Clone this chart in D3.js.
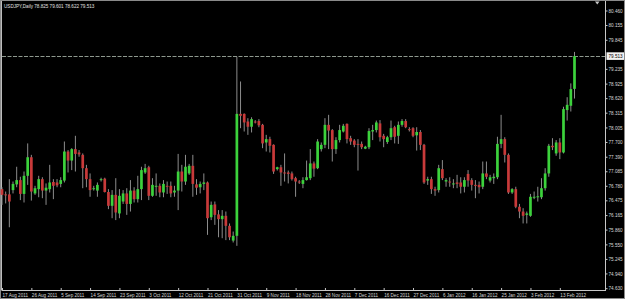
<!DOCTYPE html>
<html>
<head>
<meta charset="utf-8">
<script src="https://d3js.org/d3.v7.min.js"></script>
<style>
  body { margin:0; background:#000; }
  svg { display:block; }
  text { font-family: "Liberation Sans", Arial, sans-serif; }
</style>
</head>
<body>
<script>

/* Data */
/* ==== */

var title = "USDJPY,Daily  78.825 79.601 78.622 79.513";
var bid = 79.513;

var openP = [76.72,76.61,76.61,76.70,76.82,76.91,76.62,77.00,77.39,76.63,
  76.72,76.93,76.69,76.72,76.87,76.86,76.83,76.90,77.51,77.32,
  77.56,77.49,77.44,77.16,76.93,76.73,76.69,76.91,76.94,76.66,
  76.37,76.60,76.21,76.46,76.63,76.41,76.69,76.51,76.72,77.07,
  77.18,76.58,76.79,76.79,76.65,76.79,76.79,76.65,76.69,77.09,
  76.88,77.05,77.21,76.82,76.76,76.83,76.86,76.13,76.40,76.19,
  76.09,76.16,75.95,75.64,75.74,78.30,78.30,78.14,78.03,78.14,
  78.15,78.07,77.70,77.77,77.65,77.14,77.18,77.07,77.07,77.05,
  76.95,76.88,76.83,76.91,76.95,77.26,77.16,77.56,77.65,78.07,
  77.96,77.56,77.75,77.93,78.09,77.79,77.74,77.67,77.67,77.57,
  77.60,77.93,77.96,78.10,77.84,77.71,77.81,78.02,77.84,78.07,
  78.15,77.98,78.00,77.85,77.92,77.65,76.90,76.93,76.72,76.70,
  77.14,76.88,76.88,76.84,76.86,76.86,76.77,77.04,76.91,76.81,
  76.81,76.77,77.05,76.90,76.95,76.97,77.67,77.77,77.44,76.65,
  76.72,76.35,76.25,76.18,76.16,76.56,76.56,76.55,76.74,77.05,
  77.63,77.47,77.70,77.49,78.38,78.47,78.825];

var highP = [76.76,76.67,76.93,76.88,77.19,76.98,77.09,77.68,77.44,76.79,
  77.00,76.97,76.84,77.23,76.93,76.93,76.97,77.72,77.54,77.58,
  77.84,77.54,77.47,77.23,77.05,76.79,76.86,76.96,76.96,76.72,
  76.70,76.95,76.72,76.70,76.74,76.91,76.76,77.00,77.19,77.25,
  77.21,76.95,77.05,76.84,76.91,76.88,76.88,76.79,77.46,77.23,
  77.44,77.25,77.44,76.93,76.88,77.05,76.88,76.46,76.46,76.28,
  76.28,76.25,76.00,75.83,79.50,78.98,78.31,78.21,78.23,78.17,
  78.19,78.09,77.86,77.82,77.66,77.19,77.23,77.47,77.11,77.09,
  76.98,76.91,76.97,77.32,77.56,77.30,77.77,77.70,78.21,78.28,
  77.98,77.81,78.07,78.09,78.10,77.84,77.77,77.77,77.72,77.63,
  78.00,78.07,78.16,78.17,77.88,77.84,78.16,78.05,78.14,78.19,
  78.19,78.02,78.02,78.02,77.96,77.67,76.98,76.98,76.77,77.23,
  77.33,76.95,76.97,76.93,77.02,76.97,76.97,77.12,76.95,76.91,
  76.88,77.30,77.30,77.02,77.05,77.82,78.28,77.81,77.47,76.74,
  76.77,76.41,76.32,76.25,76.62,76.67,76.77,76.95,77.16,77.67,
  77.79,77.75,77.79,78.45,78.65,78.94,79.601];

var lowP = [76.39,76.42,75.92,76.63,76.76,76.49,76.44,76.81,76.48,76.60,
  76.55,76.53,76.39,76.65,76.51,76.76,76.76,76.86,77.07,77.12,
  77.09,77.40,76.74,76.76,76.56,76.69,76.56,76.88,76.65,76.30,
  76.11,76.07,76.11,76.41,76.18,76.25,76.44,76.44,76.49,77.04,
  76.49,76.56,76.58,76.55,76.55,76.62,76.55,76.56,76.28,76.67,
  76.81,77.02,76.56,76.60,76.63,76.70,75.76,76.07,75.97,75.71,
  75.69,75.65,75.65,75.60,75.53,78.00,77.93,77.86,77.91,78.10,
  78.02,77.58,77.51,77.49,77.04,77.11,76.79,76.88,76.84,76.90,
  76.56,76.83,76.74,76.90,76.91,76.98,77.14,77.51,77.58,77.56,
  77.30,77.46,77.70,77.91,77.68,77.65,77.60,77.11,77.56,77.56,
  77.56,77.75,77.91,77.72,77.60,77.67,77.75,77.68,77.67,78.03,
  78.00,77.93,77.81,77.53,77.54,76.83,76.81,76.62,76.58,76.65,
  76.91,76.77,76.77,76.74,76.74,76.63,76.65,76.77,76.69,76.53,
  76.63,76.72,76.93,76.86,76.83,76.93,77.58,77.28,76.62,76.62,
  76.32,76.11,76.00,76.00,76.14,76.51,76.46,76.51,76.69,76.98,
  77.54,77.42,77.35,77.47,78.16,78.35,78.622];

var closeP = [76.60,76.60,76.46,76.83,76.91,76.62,77.00,77.39,76.67,76.74,
  76.93,76.69,76.75,76.86,76.79,76.80,76.91,77.51,77.32,77.56,
  77.46,77.45,77.16,76.93,76.70,76.74,76.81,76.93,76.66,76.37,
  76.60,76.23,76.58,76.63,76.41,76.69,76.51,76.72,77.12,77.16,
  76.58,76.81,76.79,76.65,76.83,76.78,76.63,76.69,77.09,76.88,
  77.19,77.21,76.83,76.75,76.83,76.86,76.11,76.39,76.18,76.09,
  76.16,75.95,75.71,75.74,78.30,78.26,78.12,78.03,78.19,78.13,
  78.06,77.68,77.77,77.63,77.09,77.18,77.07,77.06,77.04,76.93,
  76.88,76.87,76.91,76.97,77.26,77.15,77.72,77.65,78.07,77.95,
  77.56,77.75,77.96,78.05,77.77,77.72,77.65,77.66,77.60,77.61,
  77.94,77.96,78.12,77.81,77.77,77.81,78.00,77.82,78.07,78.15,
  78.02,77.97,77.84,77.92,77.65,76.86,76.93,76.72,76.69,77.16,
  76.95,76.91,76.86,76.84,76.83,76.77,76.91,76.90,76.81,76.80,
  76.76,77.05,76.98,76.97,76.98,77.67,77.77,77.44,76.65,76.72,
  76.35,76.25,76.16,76.21,76.56,76.56,76.57,76.74,77.05,77.63,
  77.60,77.70,77.49,78.40,78.49,78.82,79.513];

// date labels, one every 8 bars
var dateLabels = ["17 Aug 2011","26 Aug 2011","5 Sep 2011","14 Sep 2011","23 Sep 2011",
  "3 Oct 2011","12 Oct 2011","21 Oct 2011","31 Oct 2011","9 Nov 2011","18 Nov 2011",
  "28 Nov 2011","7 Dec 2011","16 Dec 2011","27 Dec 2011","6 Jan 2012","16 Jan 2012",
  "25 Jan 2012","3 Feb 2012","13 Feb 2012"];
var labelStep = 8;

var priceTicks = [74.630,74.940,75.245,75.550,75.860,76.165,76.475,76.780,77.085,77.390,
  77.700,78.005,78.315,78.620,78.925,79.235,79.845,80.155,80.460];


/* Set up */
/* ====== */

var width = 625, height = 299;
var plotRight = 605, plotBottom = 290;

var bars = openP.map(function(o, i) {
  return { i: i, o: o, h: highP[i], l: lowP[i], c: closeP[i] };
});

var x = d3.scaleLinear().domain([0, bars.length - 1]).range([2, 574.5]);
var y = d3.scaleLinear().domain([74.630, 80.460]).range([288.7, 11]);

var svg = d3.select('body').append('svg')
    .attr('width', width)
    .attr('height', height);

svg.append('rect')
    .attr('width', width).attr('height', height)
    .attr('fill', '#000');

// window frame
svg.append('rect')
    .attr('x', 0.5).attr('y', 0.5)
    .attr('width', width - 1).attr('height', height - 1)
    .attr('fill', 'none')
    .attr('stroke', '#8a8a8a');
svg.append('line')
    .attr('x1', 1.5).attr('x2', 1.5).attr('y1', 1).attr('y2', plotBottom)
    .attr('stroke', '#bdbdbd');

var plot = svg.append('g');

// bid line
plot.append('line')
    .attr('x1', 2).attr('x2', plotRight)
    .attr('y1', Math.round(y(bid)) + 0.5).attr('y2', Math.round(y(bid)) + 0.5)
    .attr('stroke', '#8e988e')
    .attr('stroke-dasharray', '4,1.5');

// candles
var candle = plot.selectAll('.candle')
    .data(bars)
    .enter().append('g')
    .attr('class', 'candle');

candle.append('line')
    .attr('x1', function(d) { return x(d.i); })
    .attr('x2', function(d) { return x(d.i); })
    .attr('y1', function(d) { return y(d.h); })
    .attr('y2', function(d) { return y(d.l); })
    .attr('stroke', '#8c8c8c')
    .attr('stroke-width', 1);

candle.append('rect')
    .attr('x', function(d) { return x(d.i) - 1.35; })
    .attr('width', 2.7)
    .attr('y', function(d) { return y(Math.max(d.o, d.c)); })
    .attr('height', function(d) { return Math.max(1, Math.abs(y(d.o) - y(d.c))); })
    .attr('fill', function(d) { return d.c >= d.o ? '#3cd23c' : '#c83a3a'; });

// axes lines
svg.append('line')
    .attr('x1', plotRight + 0.5).attr('x2', plotRight + 0.5)
    .attr('y1', 1).attr('y2', plotBottom)
    .attr('stroke', '#c8c8c8');
svg.append('line')
    .attr('x1', 1.5).attr('x2', plotRight + 1)
    .attr('y1', plotBottom + 0.5).attr('y2', plotBottom + 0.5)
    .attr('stroke', '#c8c8c8');

// price axis
var pTick = svg.selectAll('.ptick')
    .data(priceTicks)
    .enter().append('g')
    .attr('class', 'ptick')
    .attr('transform', function(d) { return 'translate(' + plotRight + ',' + y(d) + ')'; });

pTick.append('line')
    .attr('x1', 0).attr('x2', 2.5)
    .attr('stroke', '#c8c8c8');

pTick.append('text')
    .attr('x', 3.5)
    .attr('dy', '0.35em')
    .attr('fill', '#d8d8d8')
    .style('font-size', '4.6px')
    .text(function(d) { return d.toFixed(3); });

// bid label
svg.append('rect')
    .attr('x', plotRight + 1.5).attr('y', y(bid) - 3.8)
    .attr('width', 17.5).attr('height', 7.6)
    .attr('fill', '#f2f2f2');
svg.append('text')
    .attr('x', plotRight + 3.5).attr('y', y(bid))
    .attr('dy', '0.35em')
    .attr('fill', '#000')
    .style('font-size', '4.6px')
    .text(bid.toFixed(3));

// date axis
var dTick = svg.selectAll('.dtick')
    .data(dateLabels)
    .enter().append('g')
    .attr('class', 'dtick')
    .attr('transform', function(d, i) { return 'translate(' + x(i * labelStep) + ',' + plotBottom + ')'; });

dTick.append('line')
    .attr('x1', 0.5).attr('x2', 0.5)
    .attr('y1', -2).attr('y2', 1)
    .attr('stroke', '#c8c8c8');

dTick.append('text')
    .attr('x', 0.5)
    .attr('y', 6.5)
    .attr('fill', '#d8d8d8')
    .style('font-size', '4.6px')
    .text(function(d) { return d; });

// chart shift marker
svg.append('path')
    .attr('d', 'M595,1.5 L599.5,1.5 L597.25,4.5 Z')
    .attr('fill', '#c8c8c8');

// title
svg.append('text')
    .attr('x', 4)
    .attr('y', 7.8)
    .attr('fill', '#e0e0e0')
    .style('font-size', '4.6px')
    .text(title);

</script>
</body>
</html>
